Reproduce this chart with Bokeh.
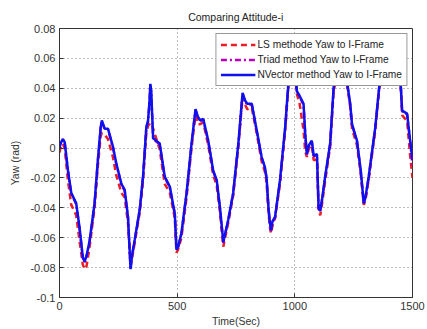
from bokeh.plotting import figure
from bokeh.embed import file_html
from bokeh.resources import INLINE
from bokeh.models import FixedTicker, CustomJSTickFormatter, Legend, LegendItem, Range1d

time_s = [0, 4, 14, 22, 36, 50, 71, 85, 99, 107, 115, 128, 149, 163, 175, 180, 192, 206, 227, 241,
          263, 277, 291, 302, 308, 320, 341, 355, 369, 376, 382, 386, 390, 393, 398, 426, 447, 469, 490, 497,
          504, 518, 540, 561, 578, 588, 597, 611, 632, 653, 668, 682, 696, 700, 717, 738, 760, 778, 788, 798,
          817, 838, 859, 873, 880, 888, 894, 899, 905, 916, 937, 959, 973, 990, 1000, 1009, 1020, 1037, 1044, 1051,
          1060, 1072, 1080, 1094, 1101, 1108, 1115, 1129, 1150, 1165, 1180, 1200, 1221, 1235, 1243, 1264, 1280, 1293, 1300, 1314,
          1342, 1361, 1385, 1420, 1449, 1456, 1477, 1490, 1500]

ls_yaw = [-0.003, 0.000, 0.003, 0.000, -0.022, -0.038, -0.045, -0.062, -0.078, -0.081, -0.079, -0.066, -0.040, -0.012, 0.008, 0.010, 0.009, 0.006, -0.006, -0.018,
          -0.030, -0.033, -0.050, -0.078, -0.074, -0.063, -0.043, -0.022, 0.010, 0.015, 0.016, 0.017, 0.016, 0.015, 0.013, -0.001, -0.024, -0.030, -0.047, -0.070,
          -0.068, -0.060, -0.033, 0.000, 0.022, 0.016, 0.016, 0.017, 0.002, -0.018, -0.025, -0.043, -0.066, -0.063, -0.050, -0.032, 0.001, 0.034, 0.029, 0.026,
          0.027, 0.010, -0.009, -0.016, -0.023, -0.043, -0.053, -0.057, -0.052, -0.047, -0.024, 0.012, 0.042, 0.049, 0.050, 0.036, 0.030, 0.012, -0.002, -0.006,
          0.000, 0.002, -0.008, -0.008, -0.042, -0.045, -0.038, -0.022, 0.001, 0.038, 0.050, 0.049, 0.044, 0.028, 0.013, 0.002, -0.017, -0.038, -0.035, -0.021,
          0.012, 0.043, 0.051, 0.049, 0.044, 0.022, 0.018, -0.005, -0.020]

triad_yaw = [0.000, 0.003, 0.0058, 0.0038, -0.0155, -0.0305, -0.0375, -0.0535, -0.0735, -0.0765, -0.0725, -0.0625, -0.0375, -0.0085, 0.0135, 0.018, 0.0125, 0.0125, 0.0005, -0.0105,
             -0.0245, -0.0285, -0.0465, -0.0805, -0.0725, -0.0615, -0.0415, -0.0195, 0.0135, 0.0175, 0.029, 0.042, 0.037, 0.0245, 0.006, 0.0025, -0.0195, -0.0265, -0.0445, -0.0675,
             -0.0665, -0.0575, -0.0305, 0.0025, 0.0255, 0.0205, 0.018, 0.019, 0.0045, -0.0155, -0.022, -0.0405, -0.0635, -0.0605, -0.0485, -0.0305, 0.0025, 0.0365, 0.0315, 0.029,
             0.029, 0.0115, -0.0065, -0.0135, -0.0205, -0.0405, -0.0505, -0.0555, -0.0495, -0.0465, -0.022, 0.0135, 0.0435, 0.0495, 0.0515, 0.0375, 0.0345, 0.029, 0.0095, -0.0045,
             0.0015, 0.0045, -0.0055, -0.0045, -0.0405, -0.0425, -0.0355, -0.0195, 0.0025, 0.040, 0.0515, 0.0495, 0.0445, 0.0295, 0.0155, 0.0045, -0.0155, -0.0375, -0.0335, -0.0195,
             0.0135, 0.0445, 0.0515, 0.0495, 0.0445, 0.0245, 0.0225, 0.0045, -0.0125]

nvector_yaw = [0.000, 0.003, 0.006, 0.004, -0.015, -0.030, -0.037, -0.053, -0.073, -0.076, -0.072, -0.062, -0.037, -0.008, 0.014, 0.0185, 0.013, 0.013, 0.001, -0.010,
               -0.024, -0.028, -0.046, -0.081, -0.072, -0.061, -0.041, -0.019, 0.014, 0.018, 0.030, 0.043, 0.038, 0.025, 0.0065, 0.003, -0.019, -0.026, -0.044, -0.068,
               -0.066, -0.057, -0.030, 0.003, 0.026, 0.021, 0.0185, 0.0195, 0.005, -0.015, -0.0215, -0.040, -0.063, -0.060, -0.048, -0.030, 0.003, 0.037, 0.032, 0.0296,
               0.0296, 0.012, -0.006, -0.013, -0.020, -0.040, -0.050, -0.055, -0.049, -0.046, -0.0215, 0.014, 0.044, 0.050, 0.052, 0.038, 0.035, 0.0296, 0.010, -0.004,
               0.002, 0.005, -0.005, -0.004, -0.040, -0.042, -0.035, -0.019, 0.003, 0.0407, 0.052, 0.050, 0.045, 0.030, 0.016, 0.005, -0.015, -0.037, -0.033, -0.019,
               0.014, 0.045, 0.052, 0.050, 0.045, 0.025, 0.023, 0.005, -0.008]

x_ticks = [0, 500, 1000, 1500]
y_ticks = [-0.1, -0.08, -0.06, -0.04, -0.02, 0, 0.02, 0.04, 0.06, 0.08]

FONT = "Liberation Sans"

p = figure(width=427, height=329, output_backend="svg", toolbar_location=None,
           x_range=Range1d(0, 1500), y_range=Range1d(-0.1, 0.08),
           title="Comparing Attitude-i",
           min_border_left=59, min_border_right=15, min_border_top=28, min_border_bottom=31)

p.title.align = "center"
p.title.vertical_align = "middle"
p.title.text_font = FONT
p.title.text_font_size = "10.5px"
p.title.text_font_style = "normal"
p.title.text_color = "#222222"

p.background_fill_color = "white"
p.border_fill_color = "white"
p.outline_line_color = "#333333"
p.outline_line_width = 1

r_ls = p.line(time_s, ls_yaw, line_color="#ee1c24", line_width=2.5, line_dash="6 4")
r_tr = p.line(time_s, triad_yaw, line_color="#bb00bb", line_width=2.5, line_dash="6 3 2 3")
r_nv = p.line(time_s, nvector_yaw, line_color="#1010ee", line_width=2.5)

fmt = CustomJSTickFormatter(code="return (Math.round(tick*100)/100).toString();")
p.xaxis.ticker = FixedTicker(ticks=x_ticks)
p.yaxis.ticker = FixedTicker(ticks=y_ticks)
p.xaxis.formatter = fmt
p.yaxis.formatter = fmt
for ax in (p.xaxis[0], p.yaxis[0]):
    ax.major_tick_in = 4
    ax.major_tick_out = 0
    ax.minor_tick_in = 0
    ax.minor_tick_out = 0
    ax.axis_line_color = "#333333"
    ax.major_tick_line_color = "#333333"
    ax.major_label_text_font = FONT
    ax.major_label_text_font_size = "11px"
    ax.major_label_text_color = "#333333"
    ax.axis_label_text_font = FONT
    ax.axis_label_text_font_size = "10.5px"
    ax.axis_label_text_font_style = "normal"
    ax.axis_label_text_color = "#333333"
p.xaxis.axis_label = "Time(Sec)"
p.yaxis.axis_label = "Yaw (rad)"
p.xaxis.major_label_standoff = 4
p.xaxis.axis_label_standoff = 2
p.yaxis.major_label_standoff = 4
p.yaxis.axis_label_standoff = 6

p.xgrid.grid_line_color = "#555555"
p.ygrid.grid_line_color = "#555555"
p.xgrid.grid_line_dash = "1 3"
p.ygrid.grid_line_dash = "1 3"
p.xgrid.grid_line_alpha = 0.8
p.ygrid.grid_line_alpha = 0.8

legend = Legend(items=[
    LegendItem(label="LS methode Yaw to I-Frame", renderers=[r_ls]),
    LegendItem(label="Triad method Yaw to I-Frame", renderers=[r_tr]),
    LegendItem(label="NVector method Yaw to I-Frame", renderers=[r_nv]),
], location="top_right")
legend.label_text_font = FONT
legend.label_text_font_size = "10.2px"
legend.label_text_color = "#222222"
legend.label_height = 13
legend.glyph_height = 13
legend.glyph_width = 35
legend.spacing = 2
legend.padding = 4
legend.margin = 5
legend.label_standoff = 2
legend.border_line_color = "#333333"
legend.border_line_width = 1
legend.background_fill_color = "white"
legend.background_fill_alpha = 1.0
p.add_layout(legend)

open("out.html", "w").write(file_html(p, INLINE))
